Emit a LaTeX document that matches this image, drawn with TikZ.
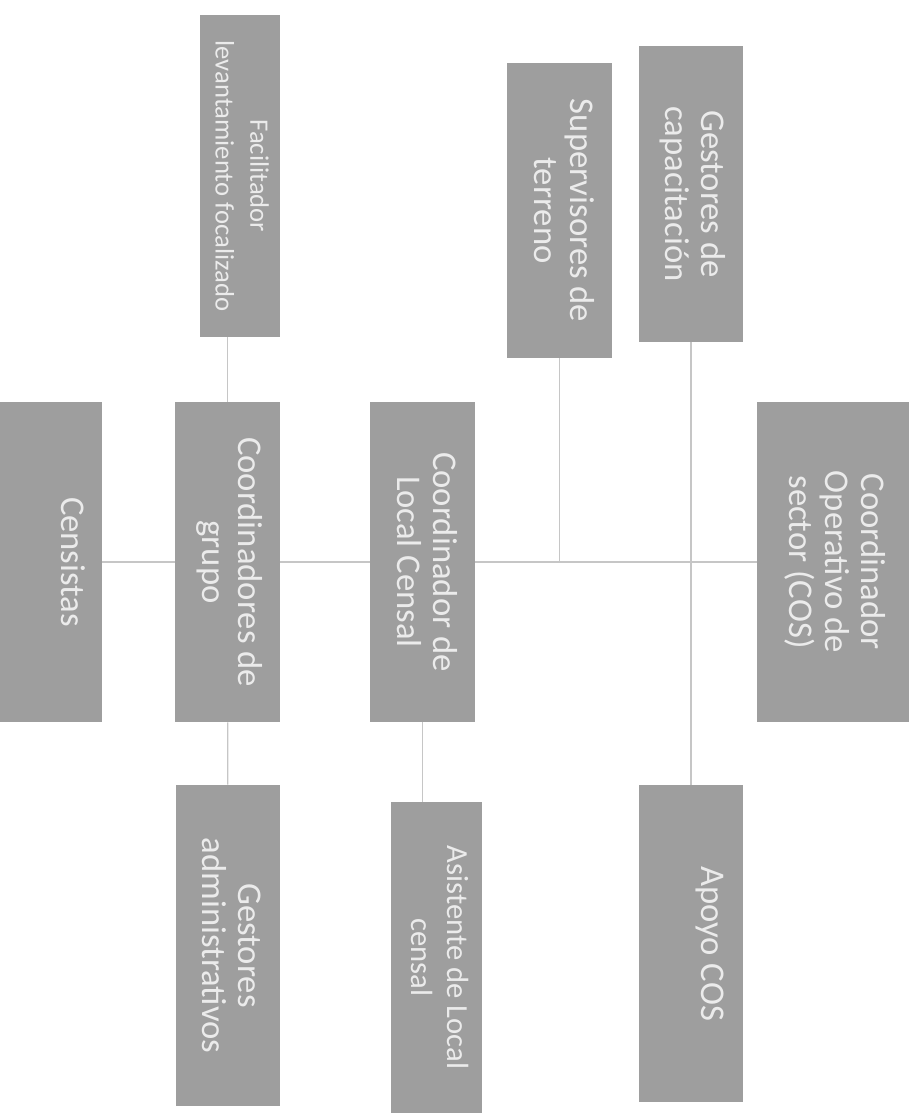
\documentclass[tikz,border=0pt]{standalone}
\usepackage{fontspec}
\setmainfont{Carlito}
\definecolor{cajagris}{HTML}{9E9E9E}
\definecolor{textogris}{HTML}{EBEBEB}
\definecolor{lineagris}{HTML}{C6C6C6}
\newcommand{\girado}[1]{\rotatebox{-90}{\begin{tabular}{@{}c@{}}#1\end{tabular}}}

\begin{document}
\begin{tikzpicture}[x=0.75pt,y=-0.75pt,
    cargo/.style={fill=cajagris,text=textogris,inner sep=0pt,font=\fontsize{26}{27}\selectfont},
    enlace/.style={draw=lineagris,line width=1pt}]
            \useasboundingbox (0,0) rectangle (909,1113);
            \node[cargo,minimum width=76.5pt,minimum height=240pt] (cens) at (51,562) {
                \girado{Censistas\\ {}}
            };
            \node[cargo,minimum width=78.75pt,minimum height=240pt] (grupo) at (227.5,562) {
                \girado{Coordinadores de\\grupo}
            };
            \node[cargo,minimum width=78.75pt,minimum height=240pt] (local) at (422.5,562) {
                \girado{Coordinador de\\Local Censal}
            };
            \node[cargo,minimum width=114pt,minimum height=240pt] (cos) at (833,562) {
                \girado{Coordinador\\Operativo de\\sector (COS)}
            };
            \node[cargo,font=\fontsize{20}{26}\selectfont,minimum width=60pt,minimum height=241.5pt] (fac) at (240,176) {
                \girado{Facilitador\\levantamiento focalizado}
            };
            \node[cargo,minimum width=78.75pt,minimum height=221.25pt] (sup) at (559.5,210.5) {
                \girado{Supervisores de\\terreno}
            };
            \node[cargo,minimum width=78pt,minimum height=222pt] (cap) at (691,194) {
                \girado{Gestores de\\capacitación}
            };
            \node[cargo,minimum width=78pt,minimum height=240.75pt] (admin) at (228,945.5) {
                \girado{Gestores\\administrativos}
            };
            \node[cargo,font=\fontsize{23}{27}\selectfont,minimum width=68.25pt,minimum height=233.25pt] (asis) at (436.5,957.5) {
                \girado{Asistente de Local\\censal}
            };
            \node[cargo,minimum width=78pt,minimum height=237.75pt] (apoyo) at (691,943.5) {
                \girado{Apoyo COS\\ {}}
            };
            \draw[enlace] (cens) -- (grupo);
            \draw[enlace] (grupo) -- (local);
            \draw[enlace] (local) -- (cos);
            \draw[enlace] (grupo.north) -- (grupo.north |- fac.south);
            \draw[enlace] (grupo) -- (admin);
            \draw[enlace] (local.south) -- (local.south |- asis.north);
            \draw[enlace] (sup) -- (sup |- local.east);
            \draw[enlace] (cap) -- (apoyo);
        \end{tikzpicture}
\end{document}
